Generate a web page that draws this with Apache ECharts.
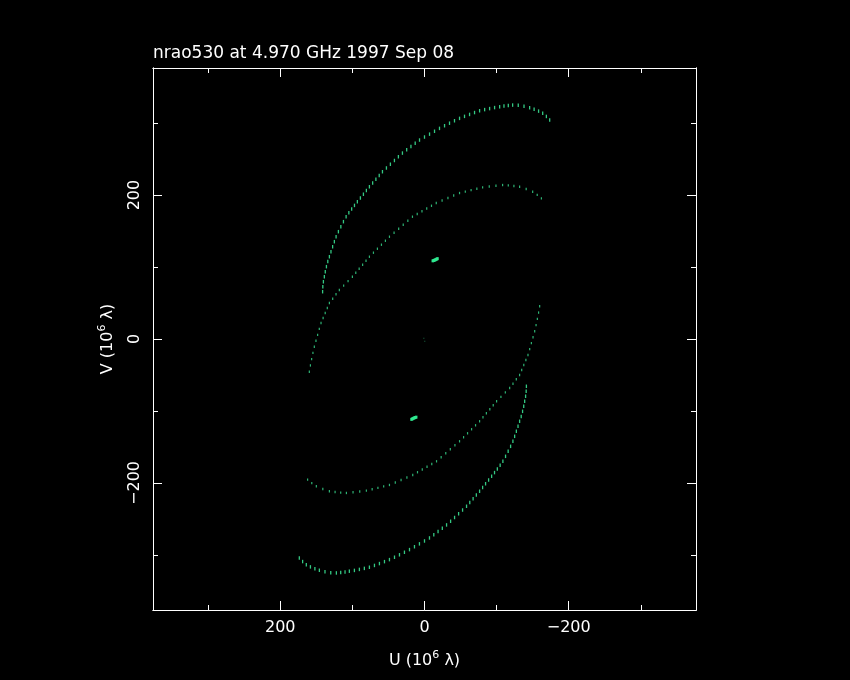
<!DOCTYPE html>
<html>
<head>
<meta charset="utf-8">
<script src="https://cdn.jsdelivr.net/npm/echarts@6/dist/echarts.min.js"></script>
<style>
  html, body { margin: 0; padding: 0; background: #000; }
  #chart { width: 850px; height: 680px; }
</style>
</head>
<body>
<div id="chart"></div>
<script>
// ---- data (U, V in 10^6 wavelengths) ----
var titleText = 'nrao530 at 4.970 GHz 1997 Sep 08';
var xName = '{n|U (10}{s|6}{n| \u03bb)}';
var yName = '{n|V (10}{s|6}{n| \u03bb)}';
var majorTicks = [-200, 0, 200];
var minorTicks = [-300, -100, 100, 300];

var outerUpper = [
  [141.3,65.7],[141,72.5],[140.2,79.5],[138.9,86.5],
  [137.6,93.5],[136,100.5],[134.1,107.5],[131.9,114.3],
  [129.7,121.3],[127.4,128.2],[125,135.2],[122.6,142.1],
  [119.4,149.1],[116,156],[112.4,163],[108.7,169.9],
  [104.9,175.3],[101,180.5],[97.1,185.6],[93.1,190.7],
  [88.9,195.9],[84.7,201.1],[80.6,206.3],[76.4,211.5],
  [71.9,216.7],[67.4,221.9],[62.8,227.1],[58.3,232.4],
  [52.8,237.6],[47.3,242.8],[41.7,248],[36.2,253.2],[30.6,258.3],
  [24.7,262.9],[18.8,267.4],[12.9,271.9],[6.9,276.4],
  [0,280.6],[-7,284.6],[-13.9,288.6],[-20.8,292.6],
  [-27.8,296.3],[-34.7,299.8],[-41.6,303.2],[-48.6,306.5],
  [-55.5,309.3],[-62.5,312],[-69.4,314.6],[-76.4,317.1],
  [-83.4,318.7],[-90.3,320.1],[-97.2,321.5],[-104.2,322.6],
  [-110.2,323.6],[-116.2,324.4],[-122.2,325],
  [-130,324.8],[-138,323.5],[-145.8,321.3],
  [-152,319.3],[-158.2,316.6],[-163.9,313.5],
  [-169,309.2],[-173.6,304.2]
];
var outerLower = [
  [-141.3,-65.7],[-141,-72.5],[-140.2,-79.5],[-138.9,-86.5],
  [-137.6,-93.5],[-136,-100.5],[-134.1,-107.5],[-131.9,-114.3],
  [-129.7,-121.3],[-127.4,-128.2],[-125,-135.2],[-122.6,-142.1],
  [-119.4,-149.1],[-116,-156],[-112.4,-163],[-108.7,-169.9],
  [-104.9,-175.3],[-101,-180.5],[-97.1,-185.6],[-93.1,-190.7],
  [-88.9,-195.9],[-84.7,-201.1],[-80.6,-206.3],[-76.4,-211.5],
  [-71.9,-216.7],[-67.4,-221.9],[-62.8,-227.1],[-58.3,-232.4],
  [-52.8,-237.6],[-47.3,-242.8],[-41.7,-248],[-36.2,-253.2],[-30.6,-258.3],
  [-24.7,-262.9],[-18.8,-267.4],[-12.9,-271.9],[-6.9,-276.4],
  [0,-280.6],[7,-284.6],[13.9,-288.6],[20.8,-292.6],
  [27.8,-296.3],[34.7,-299.8],[41.6,-303.2],[48.6,-306.5],
  [55.5,-309.3],[62.5,-312],[69.4,-314.6],[76.4,-317.1],
  [83.4,-318.7],[90.3,-320.1],[97.2,-321.5],[104.2,-322.6],
  [110.2,-323.6],[116.2,-324.4],[122.2,-325],
  [130,-324.8],[138,-323.5],[145.8,-321.3],
  [152,-319.3],[158.2,-316.6],[163.9,-313.5],
  [169,-309.2],[173.6,-304.2]
];
var innerUpper = [
  [159.7,-45.4],
  [158.2,-36.7],[156.5,-28],[154.7,-19.3],[152.8,-10.7],
  [150.5,-2.5],[148.2,5.7],[145.9,14],[143.5,22.2],
  [140.6,29.2],[137.7,36.1],[134.8,43.1],[131.9,50],
  [127.3,56],[122.7,62.1],[118.1,68.1],
  [112.1,74.2],[106,80.4],[100,86.5],
  [95.3,92.1],[90.6,97.6],[85.8,103.2],[81.1,108.7],[76.4,114.3],
  [70.8,119.9],[65.3,125.4],[59.7,131],[54.2,136.5],[48.6,142.1],
  [42.2,147.7],[35.8,153.2],[29.5,158.8],[23.1,164.3],[16.7,169.9],
  [10.1,173.7],[3.5,177.5],[-3.1,181.3],[-9.7,185.1],[-16.3,188.9],
  [-24.4,192.4],[-32.5,195.9],[-40.5,199.3],[-48.6,202.8],
  [-56.6,204.8],[-64.6,206.8],[-72.6,208.7],[-80.6,210.7],
  [-89.8,211.8],[-99.1,212.9],[-108.3,213.9],
  [-116.2,213.4],[-124,212.6],[-131.9,211.5],
  [-141,208.3],[-150,204.6],
  [-156.3,200.3],[-162.1,195.4]
];
var innerLower = [
  [-159.7,45.4],
  [-158.2,36.7],[-156.5,28],[-154.7,19.3],[-152.8,10.7],
  [-150.5,2.5],[-148.2,-5.7],[-145.9,-14],[-143.5,-22.2],
  [-140.6,-29.2],[-137.7,-36.1],[-134.8,-43.1],[-131.9,-50],
  [-127.3,-56],[-122.7,-62.1],[-118.1,-68.1],
  [-112.1,-74.2],[-106,-80.4],[-100,-86.5],
  [-95.3,-92.1],[-90.6,-97.6],[-85.8,-103.2],[-81.1,-108.7],[-76.4,-114.3],
  [-70.8,-119.9],[-65.3,-125.4],[-59.7,-131],[-54.2,-136.5],[-48.6,-142.1],
  [-42.2,-147.7],[-35.8,-153.2],[-29.5,-158.8],[-23.1,-164.3],[-16.7,-169.9],
  [-10.1,-173.7],[-3.5,-177.5],[3.1,-181.3],[9.7,-185.1],[16.3,-188.9],
  [24.4,-192.4],[32.5,-195.9],[40.5,-199.3],[48.6,-202.8],
  [56.6,-204.8],[64.6,-206.8],[72.6,-208.7],[80.6,-210.7],
  [89.8,-211.8],[99.1,-212.9],[108.3,-213.9],
  [116.2,-213.4],[124,-212.6],[131.9,-211.5],
  [141,-208.3],[150,-204.6],
  [156.3,-200.3],[162.1,-195.4]
];
var blobUpper = [[-11.5,108.6],[-12.8,109.1],[-14.1,109.6],[-15.4,110.2],[-16.7,110.9],[-18,111.6]];
var blobLower = [[11.5,-108.6],[12.8,-109.1],[14.1,-109.6],[15.4,-110.2],[16.7,-110.9],[18,-111.6]];
var centre = [[0.9,0.9],[-0.4,-3.2]];

// ---- chart ----
var FONT = 'DejaVu Sans';
var WHITE = '#ffffff';
var GREEN = '#36d48a';
var BLOB = '#2fe890';
var AX = { min: -376.5, max: 376.5 };

function fmt(v) { return v < 0 ? '\u2212' + Math.abs(v) : String(v); }

var nameRich = {
  n: { color: WHITE, fontFamily: FONT, fontSize: 16, lineHeight: 22, verticalAlign: 'middle' },
  s: { color: WHITE, fontFamily: FONT, fontSize: 11, lineHeight: 22, verticalAlign: 'top' }
};

function makeAxis(pos, isX, major, withLabel) {
  var a = {
    type: 'value', position: pos, min: AX.min, max: AX.max,
    inverse: isX, splitLine: { show: false },
    axisLine: { show: true, onZero: false, lineStyle: { color: WHITE, width: 1 } },
    axisTick: { show: true, inside: true, length: major ? 9 : 5,
                customValues: major ? majorTicks : minorTicks,
                lineStyle: { color: WHITE, width: 1 } },
    axisLabel: { show: false }
  };
  if (withLabel) {
    a.axisLabel = { show: true, customValues: majorTicks, formatter: fmt,
                    color: WHITE, fontFamily: FONT, fontSize: 16, margin: 10,
                    rotate: isX ? 0 : 90 };
    a.name = isX ? xName : yName;
    a.nameLocation = 'middle';
    a.nameGap = isX ? 40 : 34;
    a.nameRotate = isX ? 0 : 90;
    a.nameTextStyle = { color: WHITE, fontFamily: FONT, fontSize: 16, rich: nameRich };
  }
  return a;
}

function scatter(data, size, color, opacity) {
  return { type: 'scatter', data: data, symbol: 'rect', symbolSize: size,
           itemStyle: { color: color, opacity: opacity }, silent: true };
}

var chart = echarts.init(document.getElementById('chart'), null, { renderer: 'canvas' });
chart.setOption({
  backgroundColor: '#000000',
  animation: false,
  title: { text: titleText, left: 148, top: 40,
           textStyle: { color: WHITE, fontFamily: FONT, fontSize: 17, fontWeight: 'normal' } },
  grid: { left: 153, top: 68, width: 543, height: 542, containLabel: false },
  xAxis: [
    makeAxis('bottom', true, true, true),
    makeAxis('bottom', true, false, false),
    makeAxis('top', true, true, false),
    makeAxis('top', true, false, false)
  ],
  yAxis: [
    makeAxis('left', false, true, true),
    makeAxis('left', false, false, false),
    makeAxis('right', false, true, false),
    makeAxis('right', false, false, false)
  ],
  series: [
    scatter(outerUpper, [1.3, 3.5], GREEN, 0.95),
    scatter(outerLower, [1.3, 3.5], GREEN, 0.95),
    scatter(innerUpper, [1.2, 2.4], GREEN, 0.85),
    scatter(innerLower, [1.2, 2.4], GREEN, 0.85),
    scatter(blobUpper, [2.5, 3], BLOB, 1),
    scatter(blobLower, [2.5, 3], BLOB, 1),
    scatter(centre, [1, 1], GREEN, 0.5)
  ]
});
</script>
</body>
</html>
